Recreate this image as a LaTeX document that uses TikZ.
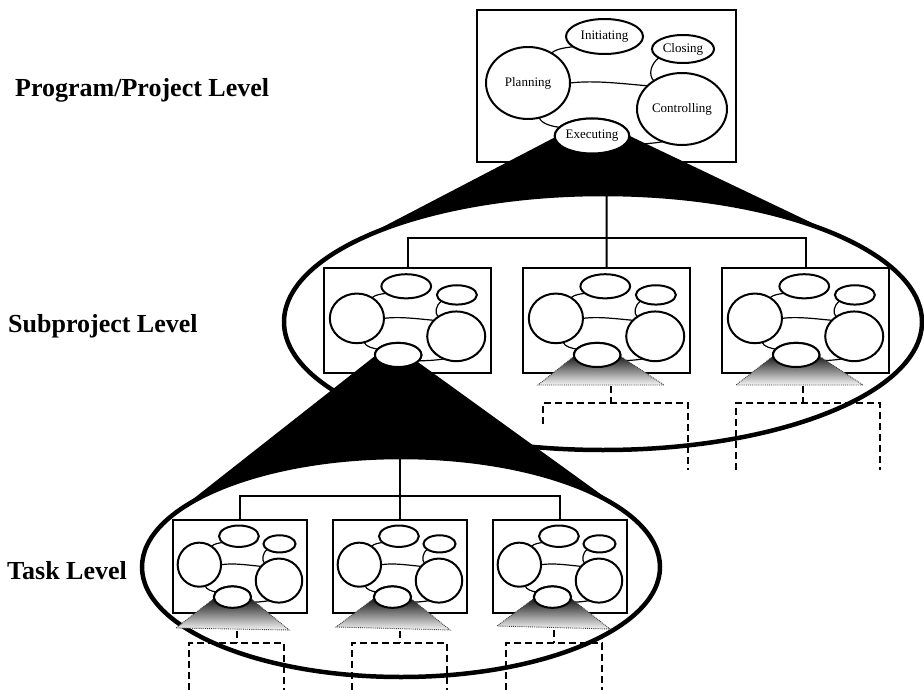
\documentclass[tikz,border=0pt]{standalone}
\usepackage{fontspec}
\setmainfont{Liberation Serif}
\usetikzlibrary{shapes.geometric}
\newif\ifptext
\tikzset{
  pbox/.style={draw, line width=2.2pt, fill=white, inner sep=0pt, outer sep=0pt},
  pell/.style={ellipse, draw, line width=2pt, fill=white, inner sep=0pt, outer sep=0pt, font=\fontsize{13}{15}\selectfont},
  plink/.style={line width=1.2pt},
  tree/.style={line width=2pt},
  dtree/.style={line width=1.3pt, dash pattern=on 7pt off 4pt},
  shtri/.style={top color=black!95, bottom color=black!4, draw=black!75, densely dotted, line width=0.9pt},
  bigell/.style={ellipse, draw, fill=white, line width=4.5pt, inner sep=0pt, outer sep=0pt},
  lvl/.style={font=\fontsize{26}{30}\selectfont\bfseries, inner sep=0pt, anchor=base west},
}
\newcommand{\procbody}[5]{%
\begin{scope}[shift={(#2,#3)}, xscale=#4, yscale=#5, transform shape]
  \node[pbox, minimum width=259pt, minimum height=152pt, anchor=north west] (#1-box) at (0,0) {};
  \node[pell, minimum width=77pt, minimum height=35pt] (#1-init) at (127.5,26.5) {\ifptext Initiating\fi};
  \node[pell, minimum width=62pt, minimum height=28pt] (#1-clos) at (206,39) {\ifptext Closing\fi};
  \node[pell, minimum width=84pt, minimum height=72pt] (#1-plan) at (51,73) {\ifptext Planning\fi};
  \node[pell, minimum width=90pt, minimum height=72pt] (#1-ctrl) at (205,99) {\ifptext Controlling\fi};
  \node[pell, minimum width=72pt, minimum height=35pt] (#1-exec) at (115,126) {\ifptext Executing\fi};
  \draw[plink] (#1-plan.52) .. controls +(6,-5) and +(-6,1) .. (#1-init.198);
  \draw[plink] (#1-plan.east) .. controls +(25,-3) and +(-25,-2) .. (#1-ctrl.146);
  \draw[plink] (#1-clos.200) .. controls +(-8,6) and +(-6,-6) .. (#1-ctrl.135);
  \draw[plink] (#1-plan.-72) .. controls +(2,6) and +(-8,-1) .. (#1-exec.165);
  \draw[plink] (#1-ctrl.-120) .. controls +(-12,2) and +(12,0) .. (#1-exec.-15);
\end{scope}}
\newcommand{\procexec}[5]{%
\begin{scope}[shift={(#2,#3)}, xscale=#4, yscale=#5, transform shape]
  \node[pell, minimum width=72pt, minimum height=35pt] (#1-execf) at (115,126) {\ifptext Executing\fi};
\end{scope}}
\begin{document}
\begin{tikzpicture}[x=1pt, y=-1pt]
\useasboundingbox (0,0) rectangle (924,690);
% program level
\ptexttrue
\procbody{top}{477}{10}{1}{1}
\fill[black] (592,118) -- (350.3,243.9) -- (603,322) -- (847,239.6) -- cycle;
\procexec{top}{477}{10}{1}{1}
\ptextfalse
% subproject level
\node[bigell, minimum width=638pt, minimum height=256pt] (subell) at (603,322) {};
\procbody{s1}{324}{268}{0.645}{0.69}
\procbody{s2}{523}{268}{0.645}{0.69}
\procbody{s3}{722}{268}{0.645}{0.69}
\path[shtri] (577,354) -- (538,385) -- (664,385) -- (617,354) -- cycle;
\path[shtri] (776,354) -- (736,385) -- (863,385) -- (816,354) -- cycle;
\procexec{s2}{523}{268}{0.645}{0.69}
\procexec{s3}{722}{268}{0.645}{0.69}
\coordinate (j1) at (606.5,238);
\draw[tree] (top-box.south) -- (s2-box.north);
\draw[tree] (s1-box.north) |- (j1) -| (s3-box.north);
\draw[dtree] (611,386) -- (611,403);
\draw[dtree] (543,424) -- (543,403) -- (688,403) -- (688,470);
\draw[dtree] (803,386) -- (803,403);
\draw[dtree] (736,470) -- (736,403) -- (880,403) -- (880,470);
% task level
\fill[black] (391.5,343) -- (173,514.8) -- (401,567) -- (624.4,511.3) -- cycle;
\procexec{s1}{324}{268}{0.645}{0.69}
\node[bigell, minimum width=518pt, minimum height=220pt] (taskell) at (401,567) {};
\procbody{t1}{173}{520}{0.517}{0.612}
\procbody{t2}{333}{520}{0.517}{0.612}
\procbody{t3}{493}{520}{0.517}{0.612}
\path[shtri] (216,597) -- (176,628) -- (289,630) -- (249,597) -- cycle;
\path[shtri] (376,597) -- (336,627) -- (450,630) -- (409,597) -- cycle;
\path[shtri] (536,597) -- (497,626) -- (610,629) -- (569,597) -- cycle;
\procexec{t1}{173}{520}{0.517}{0.612}
\procexec{t2}{333}{520}{0.517}{0.612}
\procexec{t3}{493}{520}{0.517}{0.612}
\coordinate (j2) at (400,496);
\draw[tree] (t2-box.north |- s1-box.south) -- (t2-box.north);
\draw[tree] (t1-box.north) |- (j2) -| (t3-box.north);
\draw[dtree] (237,631) -- (237,643);
\draw[dtree] (189,690) -- (189,643) -- (284,643) -- (284,690);
\draw[dtree] (400,631) -- (400,643);
\draw[dtree] (352,690) -- (352,643) -- (447,643) -- (447,690);
\draw[dtree] (554,630) -- (554,643);
\draw[dtree] (506,690) -- (506,643) -- (602,643) -- (602,690);
% labels
\node[lvl] (lab1) at (15,97) {Program/Project Level};
\node[lvl] (lab2) at (8,332) {Subproject Level};
\node[lvl] (lab3) at (7,579) {Task Level};
\end{tikzpicture}
\end{document}
